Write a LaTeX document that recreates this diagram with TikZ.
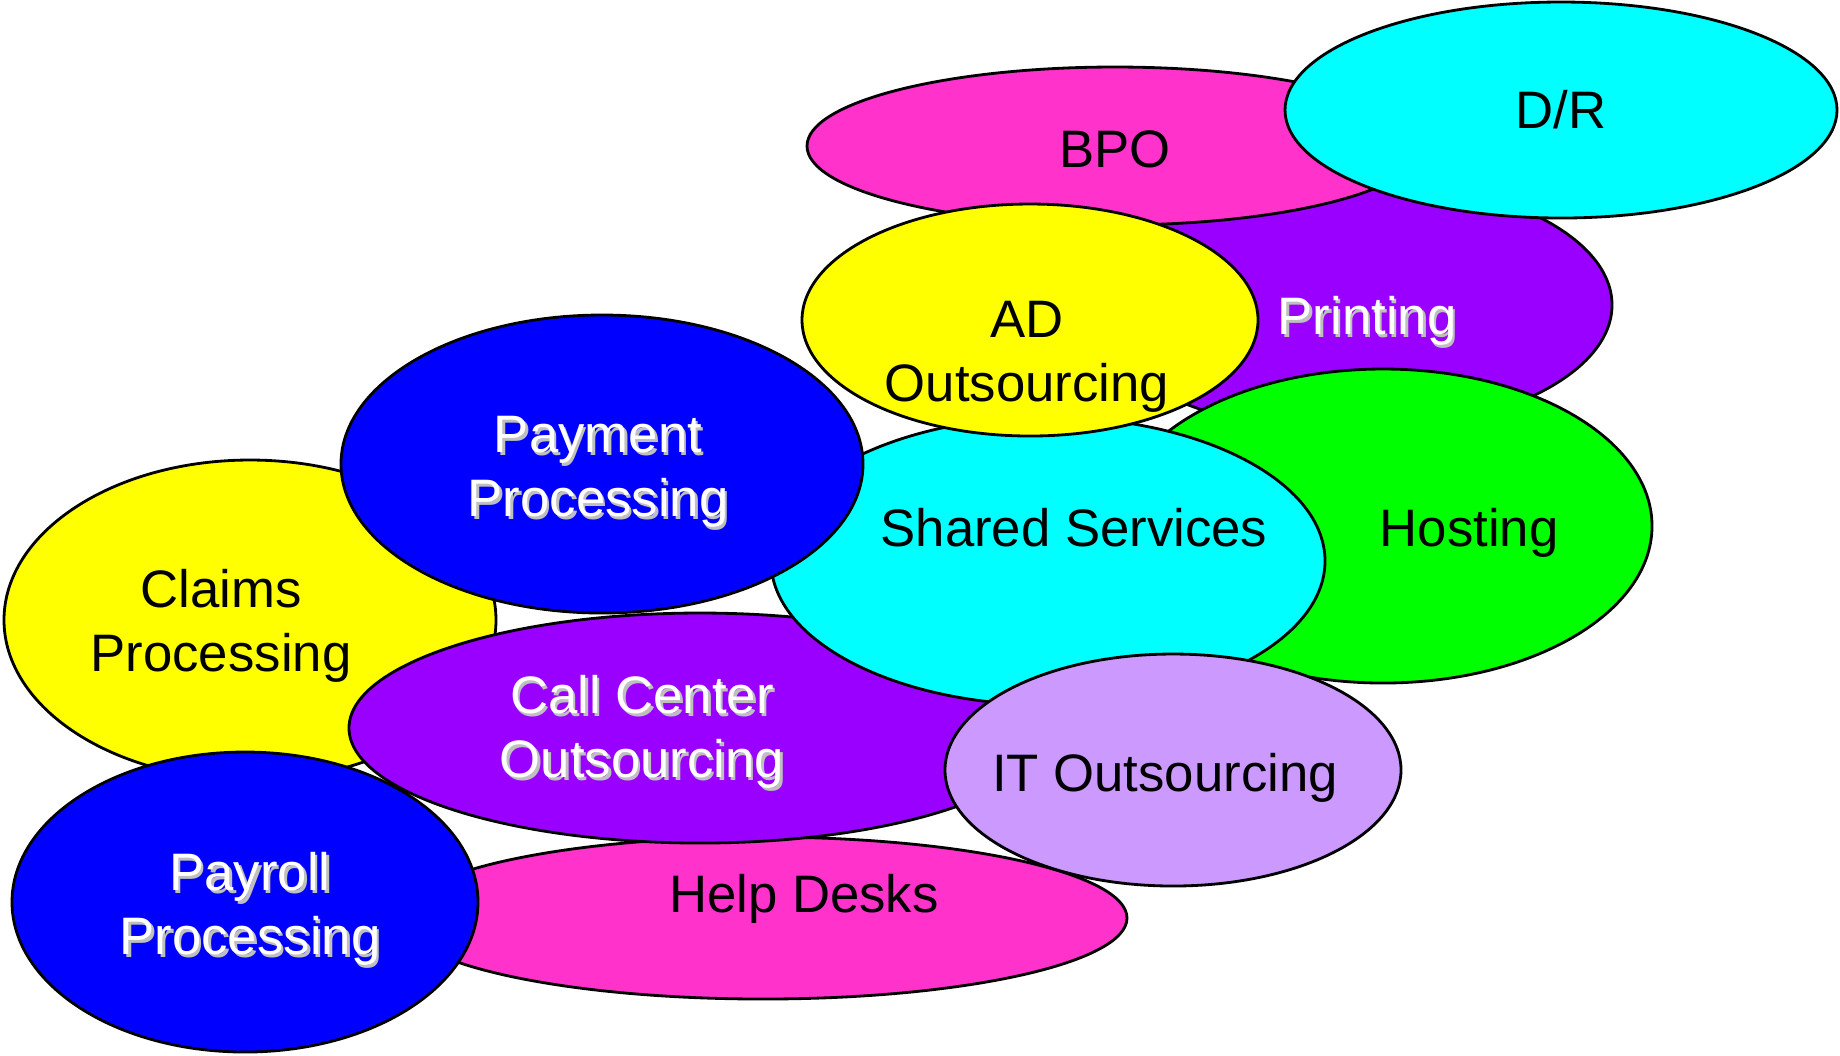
\documentclass[tikz,border=0pt]{standalone}
\usepackage{fontspec}
\setmainfont{Liberation Sans}
\usetikzlibrary{shapes}
\definecolor{hotpink}{HTML}{FF33CC}
\definecolor{aqua}{HTML}{00FFFF}
\definecolor{violetfill}{HTML}{9900FF}
\definecolor{lemon}{HTML}{FFFF00}
\definecolor{brightgreen}{HTML}{00FF00}
\definecolor{pureblue}{HTML}{0000FF}
\definecolor{lavender}{HTML}{CC99FF}
\tikzstyle{bubble}=[draw,ellipse,line width=.8pt,inner sep=0pt]
\tikzstyle{lbl}=[align=center,font=\fontsize{15}{18.3}\selectfont]
\newcommand{\shadowlabel}[3]{%
  \node[lbl,text=black!25,xshift=.025cm,yshift=-.025cm] at #2 {#3};
  \node[lbl,text=white] (#1) at #2 {#3};}

\begin{document}
\begin{tikzpicture}
  \useasboundingbox (0,0) rectangle (18.4,-10.55);

  % back row
  \node[bubble,fill=violetfill,minimum width=5.24cm,minimum height=2.54cm] (printing) at (13.50,-3.05) {};
  \shadowlabel{printingT}{(13.67,-3.21)}{Printing}
  \node[bubble,fill=hotpink,minimum width=6.16cm,minimum height=1.58cm] (bpo) at (11.15,-1.46) {};
  \node[lbl] (bpoT) at (11.15,-1.49) {BPO};
  \node[bubble,fill=aqua,minimum width=5.52cm,minimum height=2.16cm] (dr) at (15.61,-1.10) {};
  \node[lbl] (drT) at (15.61,-1.10) {D/R};
  \node[bubble,fill=brightgreen,minimum width=5.38cm,minimum height=3.14cm] (hosting) at (13.83,-5.26) {};
  \node[lbl] (hostingT) at (14.69,-5.33) {Hosting};

  % lower left
  \node[bubble,fill=hotpink,minimum width=7.28cm,minimum height=1.62cm] (help) at (7.63,-9.18) {};
  \node[lbl] (helpT) at (8.04,-8.99) {Help Desks};
  \node[bubble,fill=lemon,minimum width=4.92cm,minimum height=3.20cm] (claims) at (2.50,-6.20) {};
  \node[lbl] (claimsT) at (2.21,-6.26) {Claims\\Processing};
  \node[bubble,fill=violetfill,minimum width=7.02cm,minimum height=2.30cm] (call) at (7.00,-7.28) {};
  \shadowlabel{callT}{(6.42,-7.32)}{Call Center\\Outsourcing}

  % middle
  \node[bubble,fill=aqua,minimum width=5.54cm,minimum height=2.88cm] (shared) at (10.48,-5.61) {};
  \node[lbl] (sharedT) at (10.74,-5.28) {Shared Services};
  \node[bubble,fill=lavender,minimum width=4.56cm,minimum height=2.32cm] (it) at (11.73,-7.70) {};
  \node[lbl] (itT) at (11.65,-7.78) {IT Outsourcing};
  \node[bubble,fill=lemon,minimum width=4.56cm,minimum height=2.32cm] (ad) at (10.30,-3.20) {};
  \node[lbl] (adT) at (10.27,-3.57) {AD\\Outsourcing};
  \node[bubble,fill=pureblue,minimum width=5.22cm,minimum height=2.98cm] (payment) at (6.02,-4.64) {};
  \shadowlabel{paymentT}{(5.98,-4.72)}{Payment\\Processing}
  \node[bubble,fill=pureblue,minimum width=4.66cm,minimum height=3.00cm] (payroll) at (2.45,-9.02) {};
  \shadowlabel{payrollT}{(2.50,-9.09)}{Payroll\\Processing}
\end{tikzpicture}
\end{document}
